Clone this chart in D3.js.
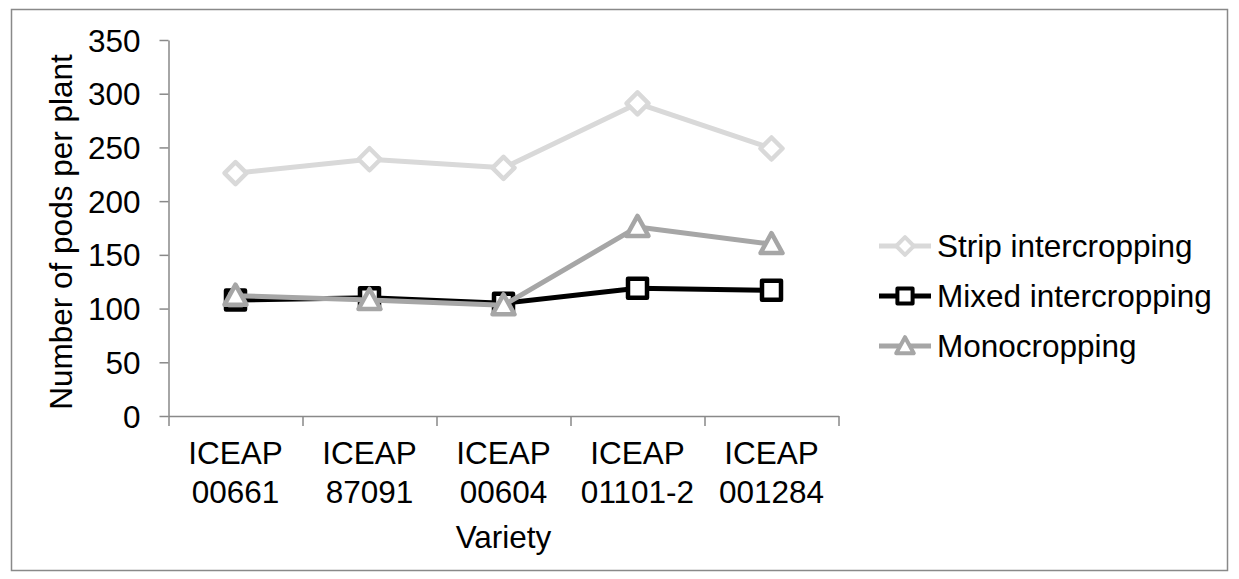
<!DOCTYPE html>
<html>
<head>
<meta charset="utf-8">
<script src="https://cdn.jsdelivr.net/npm/d3@7"></script>
<style>
  body { margin: 0; background: #fff; }
  svg text { font-family: "Liberation Sans", Arial, sans-serif; fill: #000; }
  .axis path, .axis line { stroke: #898989; stroke-width: 1.5; }
</style>
</head>
<body>
<div id="chart"></div>
<script>
// Chart data
const varieties = ["ICEAP 00661", "ICEAP 87091", "ICEAP 00604", "ICEAP 01101-2", "ICEAP 001284"];
const seriesNames = ["Strip intercropping", "Mixed intercropping", "Monocropping"];
const stripValues = [226, 239, 231, 291, 249];
const mixedValues = [108, 110, 105, 119, 117];
const monoValues = [112, 108, 103, 176, 160];
const yTicks = [0, 50, 100, 150, 200, 250, 300, 350];

const width = 1239, height = 579;
const plot = { left: 168.5, right: 838.5, top: 40, bottom: 416 };
const fontSize = "31.5px";

const series = [
  { name: seriesNames[0], values: stripValues, color: "#d9d9d9", marker: "diamond" },
  { name: seriesNames[1], values: mixedValues, color: "#000000", marker: "square" },
  { name: seriesNames[2], values: monoValues, color: "#a6a6a6", marker: "triangle" }
];

const svg = d3.select("#chart").append("svg")
  .attr("width", width)
  .attr("height", height);

// outer frame
svg.append("rect")
  .attr("x", 11.5).attr("y", 9.5)
  .attr("width", 1216).attr("height", 561)
  .attr("fill", "none")
  .attr("stroke", "#898989")
  .attr("stroke-width", 1.5);

const x = d3.scaleBand().domain(varieties).range([plot.left, plot.right]);
const xEdge = d3.scaleLinear().domain([0, varieties.length]).range([plot.left, plot.right]);
const y = d3.scaleLinear().domain([0, 350]).range([plot.bottom, plot.top]);
const cx = d => x(d) + x.bandwidth() / 2;

// y axis
const yAxis = svg.append("g")
  .attr("class", "axis")
  .attr("transform", `translate(${plot.left},0)`)
  .call(d3.axisLeft(y).tickValues(yTicks).tickSize(9).tickSizeOuter(0).tickPadding(19));
yAxis.selectAll("text").style("font-size", fontSize).attr("dy", "0.35em");

// x axis with ticks between categories
svg.append("g")
  .attr("class", "axis")
  .attr("transform", `translate(0,${plot.bottom})`)
  .call(d3.axisBottom(xEdge).tickValues(d3.range(varieties.length + 1)).tickFormat("").tickSize(10).tickSizeOuter(0));

// category labels on two lines
const xLabels = svg.append("g")
  .selectAll("text")
  .data(varieties)
  .join("text")
  .attr("text-anchor", "middle")
  .style("font-size", fontSize);
xLabels.each(function(d) {
  const parts = d.split(" ");
  const t = d3.select(this);
  t.append("tspan").attr("x", cx(d)).attr("y", 464).text(parts[0]);
  t.append("tspan").attr("x", cx(d)).attr("y", 503).text(parts[1]);
});

// axis titles
svg.append("text")
  .attr("x", (plot.left + plot.right) / 2)
  .attr("y", 548)
  .attr("text-anchor", "middle")
  .style("font-size", fontSize)
  .text("Variety");

svg.append("text")
  .attr("transform", `translate(72,${(plot.top + plot.bottom) / 2 + 4}) rotate(-90)`)
  .attr("text-anchor", "middle")
  .style("font-size", fontSize)
  .text("Number of pods per plant");

// marker shapes
function markerPath(type) {
  if (type === "diamond") return "M0,-11L11,0L0,11L-11,0Z";
  if (type === "square") return "M-9.5,-9.5H9.5V9.5H-9.5Z";
  return "M0,-11L11,9H-11Z";
}

const line = d3.line()
  .x((v, i) => cx(varieties[i]))
  .y(v => y(v));

series.forEach(s => {
  const g = svg.append("g");
  g.append("path")
    .datum(s.values)
    .attr("d", line)
    .attr("fill", "none")
    .attr("stroke", s.color)
    .attr("stroke-width", 5)
    .attr("stroke-linejoin", "round");
  g.selectAll("path.mk")
    .data(s.values)
    .join("path")
    .attr("class", "mk")
    .attr("d", markerPath(s.marker))
    .attr("transform", (v, i) => `translate(${cx(varieties[i])},${y(v)})`)
    .attr("fill", "#fff")
    .attr("stroke", s.color)
    .attr("stroke-width", 4.5)
    .attr("stroke-linejoin", "round");
});

// legend
const legend = svg.append("g")
  .selectAll("g")
  .data(series)
  .join("g")
  .attr("transform", (d, i) => `translate(879,${246 + i * 50})`);

legend.append("line")
  .attr("x1", 0).attr("x2", 52)
  .attr("stroke", d => d.color)
  .attr("stroke-width", 5);

legend.append("path")
  .attr("d", d => markerPath(d.marker))
  .attr("transform", "translate(26,0) scale(0.8)")
  .attr("fill", "#fff")
  .attr("stroke", d => d.color)
  .attr("stroke-width", 5)
  .attr("stroke-linejoin", "round");

legend.append("text")
  .attr("x", 58)
  .attr("y", 11)
  .style("font-size", fontSize)
  .text(d => d.name);
</script>
</body>
</html>
